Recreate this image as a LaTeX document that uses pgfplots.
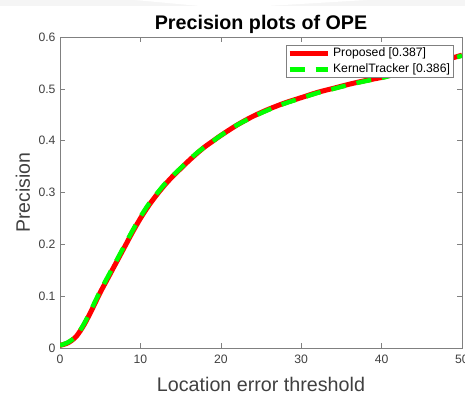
\documentclass[border=0pt]{standalone}
\usepackage{pgfplots}
\pgfplotsset{compat=1.18}
\usepackage{fontspec}
\setmainfont{Liberation Sans}
\definecolor{tickgray}{RGB}{64,64,64}
\definecolor{axgray}{RGB}{128,128,128}
\pgfplotstableread{
x y
0 0.005
1 0.010
2 0.022
3 0.045
4 0.075
5 0.107
6 0.136
7 0.165
8 0.194
9 0.223
10 0.250
11 0.274
12 0.295
13 0.314
14 0.331
15 0.346
16 0.361
17 0.375
18 0.388
19 0.399
20 0.410
22 0.430
24 0.447
26 0.461
28 0.473
30 0.483
32 0.493
34 0.501
36 0.509
38 0.516
40 0.522
42 0.530
44 0.538
46 0.547
48 0.556
50 0.565
}\proposed
\pgfplotstableread{
x y
0 0.005
1 0.011
2 0.023
3 0.047
4 0.078
5 0.110
6 0.139
7 0.168
8 0.197
9 0.226
10 0.253
11 0.277
12 0.297
13 0.316
14 0.332
15 0.347
16 0.362
17 0.376
18 0.388
19 0.399
20 0.410
22 0.430
24 0.446
26 0.460
28 0.472
30 0.482
32 0.492
34 0.500
36 0.508
38 0.515
40 0.521
42 0.529
44 0.537
46 0.546
48 0.555
50 0.564
}\kernel
\begin{document}
\begin{tikzpicture}[x=1pt,y=1pt]
\useasboundingbox (0,0) rectangle (465,392);
\clip (0,0) rectangle (465,392);
\fill[black!4] (0,386) rectangle (465,392);
\fill[white] (135,392) -- (367,392) -- (267,386) -- (200,386) -- cycle;
\begin{axis}[
  at={(60pt,44pt)}, anchor=south west,
  scale only axis, width=402pt, height=311pt,
  xmin=0, xmax=50, ymin=0, ymax=0.6,
  xtick={0,10,20,30,40,50},
  ytick={0,0.1,0.2,0.3,0.4,0.5,0.6},
  yticklabels={0,0.1,0.2,0.3,0.4,0.5,0.6},
  tick align=inside, xtick pos=both, ytick pos=both,
  major tick length=5pt,
  axis line style={axgray, line width=0.6pt},
  tick style={axgray, line width=0.6pt},
  /pgf/number format/assume math mode=true,
  tick label style={font=\fontsize{12.2}{14}\selectfont, text=tickgray},
  xticklabel style={yshift=-3pt},
  yticklabel style={xshift=-1pt},
  title={\bfseries Precision plots of OPE},
  title style={at={(rel axis cs:0.5,1)}, anchor=base, yshift=2pt, font=\fontsize{19.7}{22}\selectfont, text=black},
  xlabel={Location error threshold},
  xlabel style={at={([yshift=-43pt]rel axis cs:0.5,0)}, anchor=base, font=\fontsize{19.7}{22}\selectfont, text=tickgray},
  ylabel={Precision},
  ylabel style={at={([xshift=-30pt]rel axis cs:0,0.5)}, anchor=base, rotate=0, font=\fontsize{19.5}{22}\selectfont, text=tickgray},
  legend style={at={(rel axis cs:0.978,0.974)}, anchor=north east, draw=axgray, fill=white,
    font=\fontsize{12.2}{14}\selectfont, inner xsep=1pt, inner ysep=0pt,
    nodes={inner sep=2pt, text height=9pt, text depth=3pt}, column sep=1pt},
  legend cell align=left,
  legend image code/.code={\draw[#1] (0pt,0pt) -- (38pt,0pt);},
]
\addplot[red, line width=5pt, no marks, smooth] table[x=x,y=y] {\proposed};
\addlegendentry{Proposed [0.387]}
\addplot[green, line width=4.5pt, no marks, smooth, dash pattern=on 15pt off 11pt] table[x=x,y=y] {\kernel};
\addlegendentry{KernelTracker [0.386]}
\end{axis}
\end{tikzpicture}
\end{document}
